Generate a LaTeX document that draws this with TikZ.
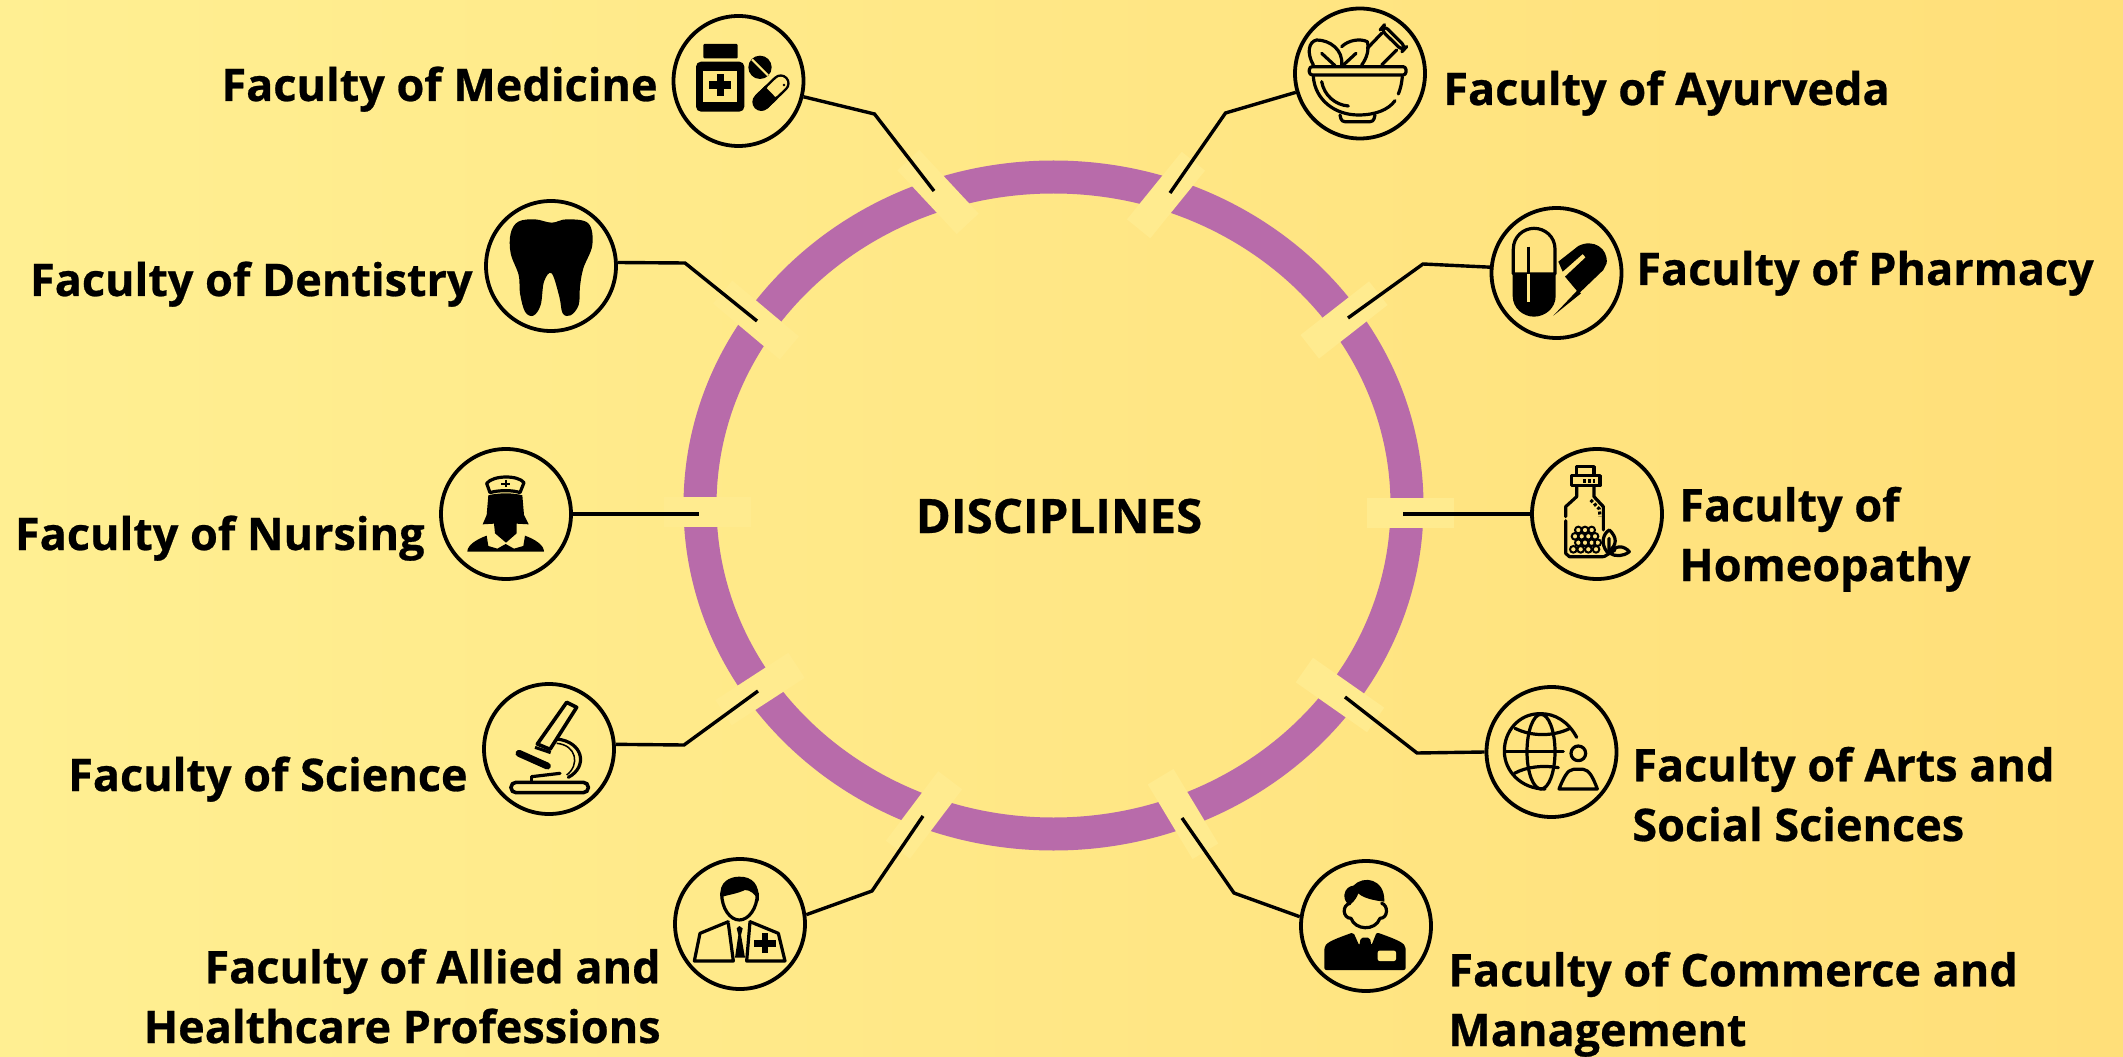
\documentclass[tikz,border=0pt]{standalone}
\usepackage{fontspec}
\setmainfont{Open Sans}[BoldFeatures={FakeBold=0.6}]
\newlength{\pxunit}
\setlength{\pxunit}{0.02cm}
\definecolor{ringcol}{HTML}{B86BAA}
\definecolor{gapcol}{HTML}{FFEB8F}
\definecolor{bgleft}{HTML}{FFEF92}
\definecolor{bgmid}{HTML}{FFE781}
\definecolor{bgright}{HTML}{FFDF79}
\tikzset{
  gapbox/.style={fill=gapcol,shape=rectangle,inner sep=0pt,minimum width=87\pxunit,minimum height=30\pxunit},
  iconring/.style={shape=circle,draw,line width=3.8\pxunit,minimum size=130\pxunit,inner sep=0pt},
  wire/.style={line width=3.4\pxunit,line join=miter},
  stroke/.style={line width=3.2\pxunit,line cap=round,line join=round},
  lab/.style={font=\fontsize{25.6}{34}\selectfont\bfseries,inner sep=0pt},
}
\begin{document}
\begin{tikzpicture}[x=\pxunit,y=-\pxunit]
\fill[left color=bgleft,middle color=bgmid,right color=bgright,use as bounding box] (0,0) rectangle (2123,1057);
\clip (0,0) rectangle (2123,1057);
% ring and its gaps
\coordinate (C) at (1053.5,505.5);
\draw[ringcol,line width=33\pxunit] (C) ellipse [x radius=353.5\pxunit,y radius=328.5\pxunit];
\node[gapbox,rotate=-47](gMed) at (938,192){};
\node[gapbox,rotate=51](gAyu) at (1166,195){};
\node[gapbox,rotate=-40](gDen) at (756,320){};
\node[gapbox,rotate=38](gPha) at (1344,320){};
\node[gapbox](gNur) at (707,512){};
\node[gapbox](gHom) at (1410,513){};
\node[gapbox,rotate=33](gSci) at (760,689){};
\node[gapbox,rotate=-35](gArt) at (1340,695){};
\node[gapbox,rotate=53](gAll) at (924,815){};
\node[gapbox,rotate=-59](gCom) at (1183,814){};
% icon circles
\node[iconring](Med) at (738.5,81){};
\node[iconring](Ayu) at (1360,73.5){};
\node[iconring](Den) at (551,266){};
\node[iconring](Pha) at (1556.5,273){};
\node[iconring](Nur) at (506,514){};
\node[iconring](Hom) at (1597,514){};
\node[iconring](Sci) at (549,749){};
\node[iconring](Art) at (1551.5,752){};
\node[iconring](All) at (740,924){};
\node[iconring](Com) at (1366,926){};
% connectors
\coordinate (bMed) at (874.5,114); \coordinate (eMed) at (934,191);
\coordinate (bAyu) at (1225.5,113); \coordinate (eAyu) at (1170,193);
\coordinate (bDen) at (685,263); \coordinate (eDen) at (757,321);
\coordinate (bPha) at (1423,264); \coordinate (ePha) at (1348,318);
\coordinate (eNur) at (699,514);
\coordinate (eHom) at (1403,514);
\coordinate (bSci) at (684,745); \coordinate (eSci) at (758,691);
\coordinate (bArt) at (1417,753); \coordinate (eArt) at (1345,697);
\coordinate (bAll) at (872,891); \coordinate (eAll) at (923,816);
\coordinate (bCom) at (1234,893); \coordinate (eCom) at (1182,818);
\draw[wire] (Med) -- (bMed) -- (eMed);
\draw[wire] (Ayu) -- (bAyu) -- (eAyu);
\draw[wire] (Den.3) -- (bDen) -- (eDen);
\draw[wire] (Pha.175) -- (bPha) -- (ePha);
\draw[wire] (Nur) -- (eNur);
\draw[wire] (Hom) -- (eHom);
\draw[wire] (Sci.4) -- (bSci) -- (eSci);
\draw[wire] (Art.west) -- (bArt) -- (eArt);
\draw[wire] (All.8) -- (bAll) -- (eAll);
\draw[wire] (Com.172) -- (bCom) -- (eCom);
% medicine
\begin{scope}[shift={(660,5)},scale=1/3]
\fill[rounded corners=1\pxunit] (130,117) rectangle (233,160);
\fill[rounded corners=5\pxunit] (108,170) rectangle (253,320);
\fill[bgmid] (130,198) rectangle (232,292);
\fill (148,229) rectangle (213,251);
\fill (170,208) rectangle (192,272);
\fill (300,187) circle (35);
\draw[bgmid,line width=2.2\pxunit] (276,163) -- (324,211);
\draw[line width=18\pxunit,line cap=round] (304,291) -- (362,235);
\draw[bgmid,line width=13\pxunit,line cap=round] (338,258) -- (362,235);
\draw[line width=18\pxunit] (304,291) -- (333,263);
\fill (372,240) circle (4);
\end{scope}
% ayurveda
\begin{scope}[shift={(1250,0)},scale=1/3]
\draw[stroke,rounded corners=3\pxunit] (178,200) rectangle (468,225);
\draw[stroke] (190,230) .. controls (195,300) and (255,345) .. (325,345) .. controls (375,345) and (415,330) .. (435,302);
\draw[stroke] (445,282) .. controls (452,265) and (455,250) .. (457,230);
\draw[stroke] (215,245) .. controls (222,285) and (255,315) .. (295,318);
\draw[stroke,rounded corners=3\pxunit] (270,345) -- (275,365) -- (370,365) -- (375,345);
\draw[stroke] (190,195) .. controls (170,160) and (175,125) .. (200,120) .. controls (240,120) and (280,150) .. (275,195);
\draw[stroke] (215,160) -- (255,197);
\draw[stroke] (275,140) .. controls (295,120) and (330,115) .. (352,125) .. controls (358,150) and (350,175) .. (335,195);
\draw[stroke] (280,195) -- (318,160);
\draw[stroke] (352,145) -- (395,100);
\draw[stroke] (395,195) -- (440,150);
\draw[stroke,rounded corners=6\pxunit] (392,88) -- (402,76) -- (468,142) -- (458,153) -- cycle;
\end{scope}
% pharmacy
\begin{scope}[shift={(1250,0)},scale=1/3]
\draw[stroke] (790,822) -- (790,747) .. controls (790,710) and (820,685) .. (852,685) .. controls (885,685) and (915,710) .. (915,747) -- (915,822) -- cycle;
\fill (788,822) -- (917,822) -- (917,888) .. controls (917,925) and (885,950) .. (852,950) .. controls (820,950) and (788,925) .. (788,888) -- cycle;
\draw[line width=3\pxunit] (835,740) -- (835,822);
\draw[bgmid,line width=3\pxunit] (835,822) -- (835,905);
\fill (925,785) -- (985,738) .. controls (1030,715) and (1075,745) .. (1070,790) -- (1060,810) -- (987,880) -- (945,830) -- (1007,772) -- (998,762) -- (938,815) -- cycle;
\fill (983,870) -- (993,880) -- (910,947) -- cycle;
\end{scope}
% dentistry
\begin{scope}[shift={(420,190)},scale=1/3]
\fill plot[smooth cycle,tension=0.6] coordinates {(395,98) (440,88) (505,100) (517,165) (490,235) (480,290) (476,345) (452,376) (428,370) (418,320) (395,250) (372,275) (362,345) (340,377) (315,365) (300,310) (296,255) (272,190) (272,130) (295,95) (345,88)};
\end{scope}
% nursing
\begin{scope}[shift={(420,190)},scale=1/3]
\draw[stroke] (200,880) .. controls (220,855) and (295,855) .. (312,878) -- (300,908) .. controls (280,900) and (235,900) .. (210,908) -- cycle;
\draw[line width=1.8\pxunit] (243,881) -- (271,881) (257,870) -- (257,892);
\fill (205,916) .. controls (235,908) and (280,908) .. (307,916) -- (312,975) -- (326,1003) -- (290,1001) -- (290,1030) -- (258,1058) -- (225,1030) -- (222,1001) -- (188,1003) -- (200,975) -- cycle;
\fill (142,1085) .. controls (142,1065) and (170,1048) .. (200,1037) -- (205,1068) -- (232,1076) -- (257,1062) -- (282,1076) -- (310,1068) -- (315,1037) .. controls (345,1048) and (372,1065) .. (372,1085) -- cycle;
\end{scope}
% homeopathy
\begin{scope}[shift={(1520,445)},scale=1/3]
\draw[stroke] (170,90) -- (170,65) -- (222,65) -- (222,90);
\draw[stroke] (155,92) rectangle (240,122);
\draw[stroke,line cap=butt,dash pattern=on 3\pxunit off 2\pxunit] (190,108) -- (225,108);
\draw[stroke] (170,122) -- (170,155) -- (137,185) -- (137,215);
\draw[stroke] (137,227) -- (137,325) -- (148,335) -- (250,335);
\draw[stroke] (222,122) -- (222,155) -- (250,185) -- (250,255);
\draw[stroke,line cap=butt,dash pattern=on 3\pxunit off 2\pxunit] (212,165) -- (238,192) -- (240,215);
\foreach \bx/\by in {175/255,195/255,215/255,165/274,185/274,205/274,225/274,175/293,195/293,215/293,233/293,160/313,182/313,205/313,228/313}
  \draw[line width=2\pxunit] (\bx,\by) circle (10);
\draw[stroke] (262,322) .. controls (240,295) and (250,265) .. (268,255) .. controls (290,275) and (295,300) .. (262,322);
\draw[stroke] (270,325) .. controls (285,300) and (310,300) .. (328,320) .. controls (310,335) and (285,335) .. (270,325);
\draw[stroke] (252,335) -- (285,315) (267,280) -- (267,320);
\end{scope}
% arts
\begin{scope}[shift={(1480,685)},scale=1/3]
\draw[stroke] (290,157) .. controls (265,110) and (225,85) .. (180,86) .. controls (115,86) and (73,140) .. (73,198) .. controls (73,260) and (125,312) .. (195,312);
\draw[stroke] (183,200) ellipse [x radius=42,y radius=112];
\draw[stroke] (75,200) -- (250,200);
\draw[stroke] (105,130) .. controls (155,155) and (220,155) .. (270,130);
\draw[stroke] (103,265) .. controls (140,245) and (190,240) .. (235,248);
\draw[stroke] (295,205) circle (22);
\draw[stroke] (237,312) .. controls (250,280) and (262,254) .. (280,253) -- (310,253) .. controls (328,254) and (340,280) .. (352,312) -- cycle;
\end{scope}
% science
\begin{scope}[shift={(460,660)},scale=1/3]
\draw[line width=3.6\pxunit,line join=round] (320,127) -- (350,142) -- (270,268) -- (232,252) -- cycle;
\draw[line width=3\pxunit] (225,262) -- (272,278);
\draw[line width=7\pxunit,line cap=round] (177,280) -- (262,318);
\draw[stroke] (290,237) .. controls (370,245) and (385,320) .. (325,352);
\draw[line width=1.5\pxunit] (290,250) .. controls (350,255) and (360,315) .. (320,345);
\draw[stroke] (215,350) -- (300,340);
\draw[stroke] (215,350) -- (215,367);
\draw[line width=3.6\pxunit,rounded corners=5\pxunit] (153,367) rectangle (385,398);
\end{scope}
% allied
\begin{scope}[shift={(460,660)},scale=1/3]
\draw[stroke] (785,700) .. controls (785,745) and (810,780) .. (838,780) .. controls (866,780) and (892,745) .. (892,700);
\fill (782,712) .. controls (775,665) and (810,650) .. (838,650) .. controls (875,650) and (900,670) .. (896,725) .. controls (885,700) and (870,690) .. (855,690) .. controls (830,702) and (800,705) .. (782,712) -- cycle;
\draw[stroke] (805,790) -- (820,903) -- (703,903) -- (720,820) -- (805,785);
\draw[stroke] (870,785) -- (955,820) -- (975,903) -- (860,903) -- (870,785);
\fill (830,805) -- (838,798) -- (848,805) -- (843,825) -- (855,893) -- (825,893) -- (835,825) -- cycle;
\fill (905,820) rectangle (925,880);
\fill (883,840) rectangle (948,860);
\end{scope}
% commerce
\begin{scope}[shift={(1150,770)},scale=1/3]
\draw[stroke] (600,400) .. controls (575,405) and (578,445) .. (603,445) .. controls (615,480) and (675,485) .. (690,445) .. controls (715,445) and (715,405) .. (695,400);
\fill (583,375) .. controls (585,355) and (600,348) .. (610,347) .. controls (640,315) and (705,325) .. (703,395) .. controls (675,392) and (640,385) .. (625,370) .. controls (615,395) and (605,400) .. (597,405) .. controls (587,395) and (583,390) .. (583,375);
\fill[rounded corners=2\pxunit] (523,600) -- (523,540) .. controls (525,520) and (540,512) .. (610,487) -- (628,527) -- (632,503) -- (660,503) -- (664,527) -- (680,487) .. controls (750,512) and (765,520) .. (767,540) -- (767,600) -- cycle;
\fill[bgmid,rounded corners=2\pxunit] (683,542) rectangle (738,573);
\end{scope}
% labels
\node[lab,anchor=base east](tMed) at (658,101){Faculty of Medicine};
\node[lab,anchor=base east](tDen) at (473,296){Faculty of Dentistry};
\node[lab,anchor=base east](tNur) at (425,550){Faculty of Nursing};
\node[lab,anchor=base east](tSci) at (468,791){Faculty of Science};
\node[lab,anchor=base east,align=right](tAll) at (661,1043){Faculty of Allied and\\Healthcare Professions};
\node[lab,anchor=base west](tAyu) at (1443,105){Faculty of Ayurveda};
\node[lab,anchor=base west](tPha) at (1636,285){Faculty of Pharmacy};
\node[lab,anchor=base west,align=left](tHom) at (1679,581){Faculty of\\Homeopathy};
\node[lab,anchor=base west,align=left](tArt) at (1632,841){Faculty of Arts and\\Social Sciences};
\node[lab,anchor=base west,align=left](tCom) at (1448,1046){Faculty of Commerce and\\Management};
\node[lab,anchor=base,font=\fontsize{27}{34}\selectfont\bfseries](tDis) at (1059,533){DISCIPLINES};
\end{tikzpicture}
\end{document}
